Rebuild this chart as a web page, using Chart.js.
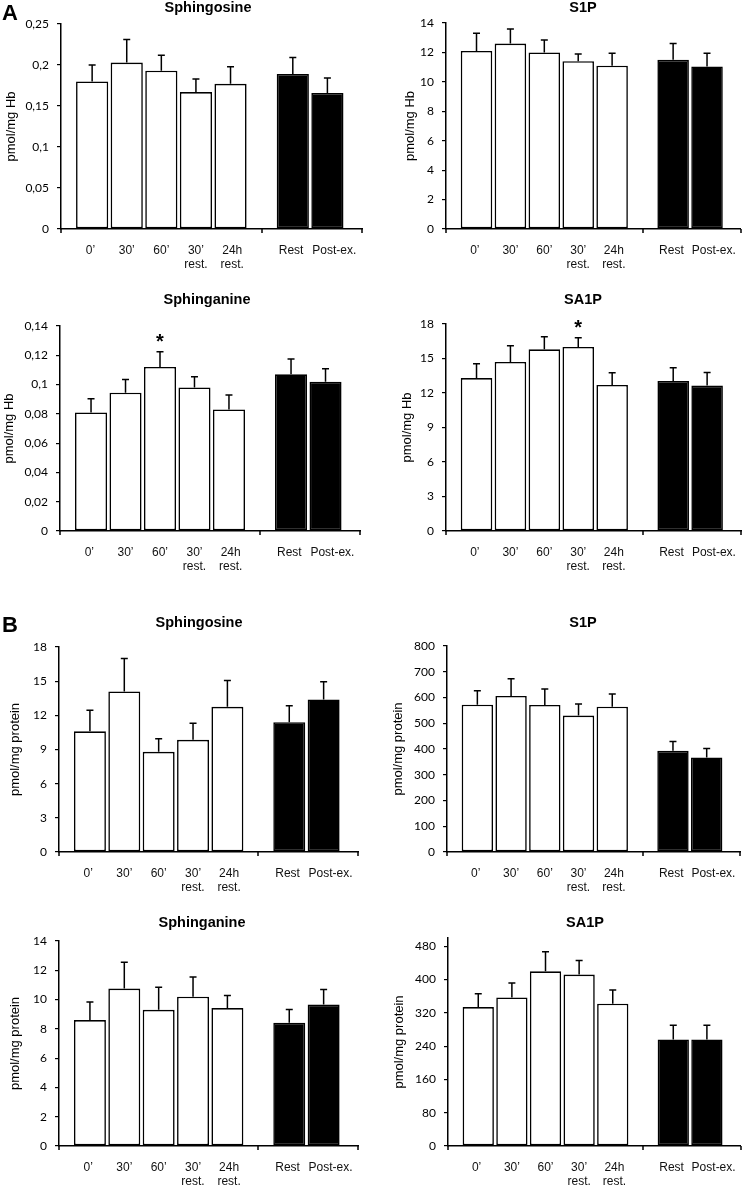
<!DOCTYPE html>
<html lang="en">
<head>
<meta charset="UTF-8" />
<title>Sphingoid bases</title>
<script src="https://cdn.jsdelivr.net/npm/chart.js"></script>
<style>
  body { margin: 0; background: #fff; }
  #fig { position: relative; width: 751px; height: 1186px; overflow: hidden; }
  #fig canvas { position: absolute; }
</style>
</head>
<body>
<div id="fig"></div>
<script>
  // categories: five time points (white bars) + rest / post-exercise (black bars)
  const timeLabels = ['0’', '30’', '60’', ['30’', 'rest.'], ['24h', 'rest.']];
  const groupLabels = ['Rest', 'Post-ex.'];

  // A - pmol/mg Hb ; first five values = time course, last two = Rest, Post-ex.
  const hbSphingosineMean = [0.180, 0.203, 0.193, 0.167, 0.177, 0.189, 0.166];
  const hbSphingosineSD   = [0.020, 0.028, 0.019, 0.016, 0.021, 0.020, 0.018];
  const hbS1PMean = [12.1, 12.6, 12.0, 11.4, 11.1, 11.5, 11.05];
  const hbS1PSD   = [1.2, 1.0, 0.85, 0.5, 0.85, 1.1, 0.9];
  const hbSphinganineMean = [0.081, 0.0945, 0.112, 0.098, 0.083, 0.107, 0.102];
  const hbSphinganineSD   = [0.0093, 0.009, 0.0105, 0.0073, 0.0098, 0.0105, 0.0088];
  const hbSA1PMean = [13.3, 14.7, 15.8, 16.0, 12.7, 13.05, 12.65];
  const hbSA1PSD   = [1.25, 1.4, 1.1, 0.8, 1.07, 1.15, 1.13];

  // B - pmol/mg protein
  const prSphingosineMean = [10.6, 14.1, 8.8, 9.85, 12.75, 11.4, 13.4];
  const prSphingosineSD   = [1.85, 2.9, 1.15, 1.45, 2.3, 1.45, 1.55];
  const prS1PMean = [572, 606, 571, 530, 564, 393, 367];
  const prS1PSD   = [54, 67, 62, 45, 50, 36, 35];
  const prSphinganineMean = [8.6, 10.75, 9.3, 10.2, 9.42, 8.42, 9.66];
  const prSphinganineSD   = [1.23, 1.8, 1.55, 1.35, 0.85, 0.9, 1.02];
  const prSA1PMean = [334, 357, 420, 412, 342, 256, 256];
  const prSA1PSD   = [32, 35, 47, 34, 33, 34, 34];

  // significant vs 0'
  const hbSphinganineSig = [false, false, true, false, false];
  const hbSA1PSig = [false, false, false, true, false];

  // layout: bar slots and label anchors on the x axis, group break, axis end
  const slotPos = [0.9, 1.9, 2.9, 3.9, 4.9, 6.7, 7.7];
  const labelPos = [0.85, 1.9, 2.9, 3.9, 4.95, 6.65, 7.9];
  const groupBreak = 5.8;
  const xEnd = 8.7;
  const X_AXIS_H = 40;

  const panels = [
    { title: 'Sphingosine', unit: 'pmol/mg Hb', mean: hbSphingosineMean, sd: hbSphingosineSD, max: 0.25, step: 0.05,
      x0: 0, y0: 0, w: 375, h: 272, L: 61, T: 24, B: 229, R: 362, tx: 208, ty: 8, yt: 11, letter: 'A', ly: 20 },
    { title: 'S1P', unit: 'pmol/mg Hb', mean: hbS1PMean, sd: hbS1PSD, max: 14, step: 2,
      x0: 375, y0: 0, w: 376, h: 272, L: 446, T: 23, B: 229, R: 749, tx: 583, ty: 8, yt: 35 },
    { title: 'Sphinganine', unit: 'pmol/mg Hb', mean: hbSphinganineMean, sd: hbSphinganineSD, sig: hbSphinganineSig, max: 0.14, step: 0.02,
      x0: 0, y0: 272, w: 375, h: 300, L: 60, T: 326, B: 531, R: 360, tx: 207, ty: 300, yt: 9 },
    { title: 'SA1P', unit: 'pmol/mg Hb', mean: hbSA1PMean, sd: hbSA1PSD, sig: hbSA1PSig, max: 18, step: 3,
      x0: 375, y0: 272, w: 376, h: 300, L: 446, T: 324, B: 531, R: 750, tx: 583, ty: 300, yt: 32 },
    { title: 'Sphingosine', unit: 'pmol/mg protein', mean: prSphingosineMean, sd: prSphingosineSD, max: 18, step: 3,
      x0: 0, y0: 572, w: 375, h: 323, L: 59, T: 647, B: 852, R: 358, tx: 199, ty: 623, yt: 15, letter: 'B', ly: 632 },
    { title: 'S1P', unit: 'pmol/mg protein', mean: prS1PMean, sd: prS1PSD, max: 800, step: 100,
      x0: 375, y0: 572, w: 376, h: 323, L: 447, T: 646, B: 852, R: 745, tx: 583, ty: 623, yt: 23 },
    { title: 'Sphinganine', unit: 'pmol/mg protein', mean: prSphinganineMean, sd: prSphinganineSD, max: 14, step: 2,
      x0: 0, y0: 895, w: 375, h: 291, L: 59, T: 941, B: 1146, R: 358, tx: 202, ty: 923, yt: 15 },
    { title: 'SA1P', unit: 'pmol/mg protein', mean: prSA1PMean, sd: prSA1PSD, max: 500, step: 80,
      x0: 375, y0: 895, w: 376, h: 291, L: 448, T: 938, B: 1146, R: 747, tx: 585, ty: 923, yt: 24 }
  ];

  const xLabels = timeLabels.concat(groupLabels);

  // error bars, asterisks, group ticks, titles
  const extras = {
    id: 'extras',
    afterDraw(chart, args, o) {
      const p = o.panel;
      const ctx = chart.ctx, xs = chart.scales.x, ys = chart.scales.y;
      ctx.save();
      ctx.strokeStyle = '#000';
      ctx.fillStyle = '#000';
      ctx.lineWidth = 1.5;
      chart.data.datasets.forEach((ds, di) => {
        chart.getDatasetMeta(di).data.forEach((bar, i) => {
          const top = ys.getPixelForValue(ds.data[i].y + ds.sd[i]);
          ctx.beginPath();
          ctx.moveTo(bar.x, bar.y);
          ctx.lineTo(bar.x, top);
          ctx.moveTo(bar.x - 3.5, top);
          ctx.lineTo(bar.x + 3.5, top);
          ctx.stroke();
          if (ds.sig && ds.sig[i]) {
            ctx.font = 'bold 20px "Liberation Sans"';
            ctx.textAlign = 'center';
            ctx.textBaseline = 'alphabetic';
            ctx.fillText('*', bar.x, top - 4);
          }
        });
      });
      const yb = chart.chartArea.bottom;
      [0, groupBreak, xEnd].forEach(v => {
        const px = Math.round(xs.getPixelForValue(v));
        ctx.beginPath();
        ctx.moveTo(px, yb);
        ctx.lineTo(px, yb + 4);
        ctx.stroke();
      });
      ctx.font = 'bold 14.5px "Liberation Sans"';
      ctx.textAlign = 'center';
      ctx.textBaseline = 'middle';
      ctx.fillText(p.title, p.tx - p.x0, p.ty - p.y0);
      if (p.letter) {
        ctx.font = 'bold 22px "Liberation Sans"';
        ctx.textAlign = 'left';
        ctx.textBaseline = 'alphabetic';
        ctx.fillText(p.letter, 2, p.ly - p.y0);
      }
      ctx.restore();
    }
  };

  const fig = document.getElementById('fig');

  panels.forEach(p => {
    const cv = document.createElement('canvas');
    cv.width = p.w;
    cv.height = p.h;
    cv.style.left = p.x0 + 'px';
    cv.style.top = p.y0 + 'px';
    fig.appendChild(cv);

    const toPts = (vals, from) => vals.map((v, i) => ({ x: slotPos[from + i], y: v }));

    new Chart(cv.getContext('2d'), {
      type: 'bar',
      data: {
        datasets: [
          {
            label: 'Time course',
            data: toPts(p.mean.slice(0, 5), 0),
            sd: p.sd.slice(0, 5),
            sig: p.sig,
            backgroundColor: '#fff',
            borderColor: '#000'
          },
          {
            label: 'Rest / Post-ex.',
            data: toPts(p.mean.slice(5), 5),
            sd: p.sd.slice(5),
            backgroundColor: '#000',
            borderColor: '#000'
          }
        ]
      },
      options: {
        responsive: false,
        animation: false,
        grouped: false,
        categoryPercentage: 1,
        barPercentage: 0.93,
        borderWidth: 1.6,
        borderSkipped: false,
        layout: {
          padding: {
            left: 0,
            right: p.w - (p.R - p.x0),
            top: p.T - p.y0,
            bottom: p.h - (p.B - p.y0) - X_AXIS_H
          }
        },
        plugins: {
          legend: { display: false },
          tooltip: { enabled: false },
          extras: { panel: p }
        },
        scales: {
          x: {
            type: 'linear',
            min: 0,
            max: xEnd,
            offset: false,
            grid: { display: false, drawTicks: false },
            border: { display: true, color: '#000', width: 1.5, z: 1 },
            afterBuildTicks: s => { s.ticks = labelPos.map(v => ({ value: v })); },
            afterFit: s => { s.height = X_AXIS_H; },
            ticks: {
              autoSkip: false,
              maxRotation: 0,
              minRotation: 0,
              padding: 15,
              color: '#111',
              font: { family: '"Liberation Sans"', size: 12, lineHeight: 1.13 },
              callback: (v, i) => xLabels[i]
            }
          },
          y: {
            min: 0,
            max: p.max,
            grid: { drawOnChartArea: false, drawTicks: true, tickLength: 4, color: '#000', lineWidth: 1.2 },
            border: { display: true, color: '#000', width: 1.5, z: 1 },
            afterFit: s => { s.width = p.L - p.x0; },
            ticks: {
              stepSize: p.step,
              includeBounds: false,
              padding: 8,
              color: '#000',
              font: { family: 'Lato', size: 12 },
              callback: v => String(Math.round(v * 1000) / 1000).replace('.', ',')
            },
            title: {
              display: true,
              text: p.unit,
              color: '#000',
              font: { family: '"Liberation Sans"', size: 13 },
              padding: { top: p.yt - 7.8, bottom: 0 }
            }
          }
        }
      },
      plugins: [extras]
    });
  });
</script>
</body>
</html>
